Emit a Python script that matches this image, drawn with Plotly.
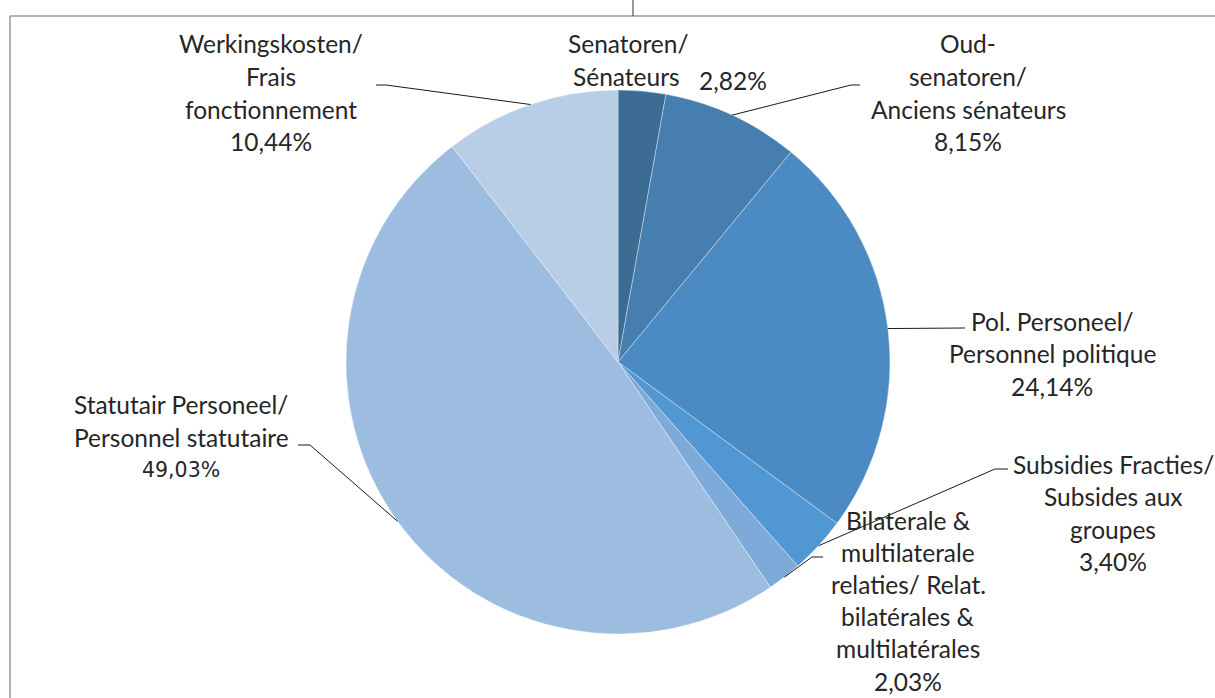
import plotly.graph_objects as go
import math

categories = [
    "Senatoren/ Sénateurs",
    "Oud-senatoren/ Anciens sénateurs",
    "Pol. Personeel/ Personnel politique",
    "Subsidies Fracties/ Subsides aux groupes",
    "Bilaterale & multilaterale relaties/ Relat. bilatérales & multilatérales",
    "Statutair Personeel/ Personnel statutaire",
    "Werkingskosten/ Frais fonctionnement",
]
values = [2.82, 8.15, 24.14, 3.40, 2.03, 49.03, 10.44]
label_lines = [
    ["Senatoren/", "Sénateurs"],
    ["Oud-", "senatoren/", "Anciens sénateurs"],
    ["Pol. Personeel/", "Personnel politique"],
    ["Subsidies Fracties/", "Subsides aux", "groupes"],
    ["Bilaterale &", "multilaterale", "relaties/ Relat.", "bilatérales &", "multilatérales"],
    ["Statutair Personeel/", "Personnel statutaire"],
    ["Werkingskosten/", "Frais", "fonctionnement"],
]
colors = ["#3c6b94", "#467eb0", "#4b8ac2", "#5197d3", "#7eaad9", "#9dbde0", "#b8cee6"]

W, H = 1215, 698
CX, CY, R = 618, 362, 272

def px(x):
    return x / W

def py(y):
    return 1 - y / H

fig = go.Figure(go.Pie(
    labels=categories, values=values, sort=False, direction="clockwise",
    rotation=0, textinfo="none", hoverinfo="label+percent",
    marker=dict(colors=colors, line=dict(color="rgba(255,255,255,0.6)", width=0.6)),
    domain=dict(x=[px(CX - R), px(CX + R)], y=[py(CY + R), py(CY - R)]),
    showlegend=False,
))

def pct(v):
    return f"{v:.2f}".replace(".", ",") + "%"

layout_cfg = [
    dict(cx=628, y0=44, pct_xy=(733, 80), elbow=None, sub_cx=[628, 626]),
    dict(cx=968, y0=44, elbow=[(851, 85), (860, 85)]),
    dict(cx=1052, y0=321, elbow=[(965, 328)]),
    dict(cx=1113, y0=464, elbow=[(995, 469), (1008, 469)]),
    dict(cx=908, y0=520, sp=32.2, elbow=[(812, 557), (823, 557)]),
    dict(cx=181, y0=405, elbow=[(310, 445), (298, 445)], pct_font="DejaVu Sans"),
    dict(cx=271, y0=44, elbow=[(386, 85), (376, 85)]),
]
SP = 32.6
font_main = dict(family="Lato", size=24.5, color="#262626")

annotations = []
shapes = []
total = sum(values)
cum = 0.0
for i, v in enumerate(values):
    mid = (cum + v / 2) / total
    cum += v
    ang = 2 * math.pi * mid
    ex = CX + R * math.sin(ang)
    ey = CY - R * math.cos(ang)
    cfg = layout_cfg[i]
    sp = cfg.get("sp", SP)
    lines = label_lines[i]
    for k, t in enumerate(lines):
        lx = cfg.get("sub_cx", [cfg["cx"]] * len(lines))[k]
        annotations.append(dict(x=px(lx), y=py(cfg["y0"] + k * sp), xref="paper", yref="paper",
                                text=t, showarrow=False, xanchor="center", yanchor="middle",
                                font=font_main))
    if "pct_xy" in cfg:
        pxy = cfg["pct_xy"]
    else:
        pxy = (cfg["cx"], cfg["y0"] + len(lines) * sp)
    pf = dict(font_main)
    if cfg.get("pct_font"):
        pf = dict(family=cfg["pct_font"], size=20.5, color="#262626")
    annotations.append(dict(x=px(pxy[0]), y=py(pxy[1]), xref="paper", yref="paper",
                            text=pct(v), showarrow=False, xanchor="center", yanchor="middle",
                            font=pf))
    if cfg["elbow"]:
        pts = [(ex, ey)] + cfg["elbow"]
        path = "M " + " L ".join(f"{px(a):.5f},{py(b):.5f}" for a, b in pts)
        shapes.append(dict(type="path", path=path, xref="paper", yref="paper",
                           line=dict(color="#1a1a1a", width=1)))

frame_color = "#9a9a9a"
shapes.append(dict(type="line", xref="paper", yref="paper", x0=px(10), x1=1, y0=py(16), y1=py(16),
                   line=dict(color=frame_color, width=1.5)))
shapes.append(dict(type="line", xref="paper", yref="paper", x0=px(10), x1=px(10), y0=py(16), y1=0,
                   line=dict(color=frame_color, width=1.5)))
shapes.append(dict(type="line", xref="paper", yref="paper", x0=px(633), x1=px(633), y0=1, y1=py(16),
                   line=dict(color="#333333", width=1)))

fig.update_layout(
    width=W, height=H, margin=dict(l=0, r=0, t=0, b=0),
    paper_bgcolor="white", plot_bgcolor="white",
    annotations=annotations, shapes=shapes,
)
fig.write_html("out.html", config={"displayModeBar": False},
               post_script="document.body.style.margin='0';document.body.style.overflow='hidden';")
